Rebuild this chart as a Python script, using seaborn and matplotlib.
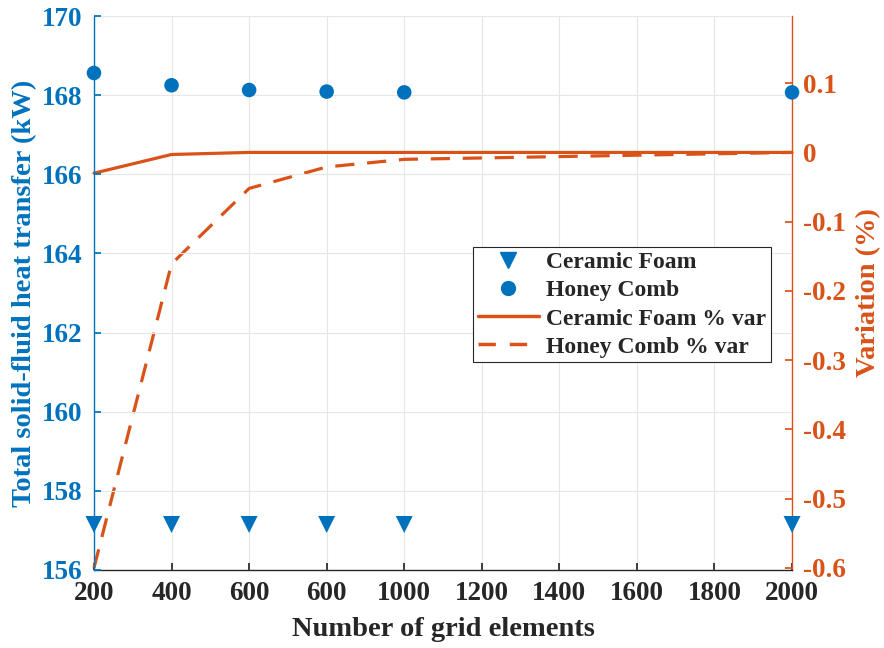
import matplotlib
matplotlib.use("Agg")
import matplotlib.pyplot as plt
import seaborn as sns
import pandas as pd
from matplotlib.lines import Line2D

# Data
grid_elements = [200, 400, 600, 800, 1000, 2000]
ceramic_foam_q = [157.15, 157.15, 157.15, 157.15, 157.15, 157.15]
honey_comb_q = [168.56, 168.25, 168.13, 168.09, 168.07, 168.07]
ceramic_foam_var = [-0.030, -0.003, 0.0, 0.0, 0.0, 0.0]
honey_comb_var = [-0.60, -0.161, -0.052, -0.021, -0.010, 0.0]

x_ticks = [200, 400, 600, 800, 1000, 1200, 1400, 1600, 1800, 2000]
x_tick_labels = ["200", "400", "600", "600", "1000", "1200", "1400", "1600", "1800", "2000"]
left_ticks = [156, 158, 160, 162, 164, 166, 168, 170]
right_ticks = [-0.6, -0.5, -0.4, -0.3, -0.2, -0.1, 0, 0.1]
right_tick_labels = ["-0.6", "-0.5", "-0.4", "-0.3", "-0.2", "-0.1", "0", "0.1"]

df = pd.DataFrame({
    "x": grid_elements,
    "cf": ceramic_foam_q,
    "hc": honey_comb_q,
    "cfv": ceramic_foam_var,
    "hcv": honey_comb_var,
})

sns.set_theme(style="white")
plt.rcParams["font.family"] = ["Liberation Serif", "DejaVu Serif"]
plt.rcParams["font.weight"] = "bold"

BLUE = "#0072BD"
ORANGE = "#D95319"
DARK = "#262626"
TICK_FS = 19.5
LABEL_FS = 20.5

fig = plt.figure(figsize=(8.84, 6.48), dpi=100)
ax2 = fig.add_axes([0.1063, 0.1204, 0.896 - 0.1063, 0.9753 - 0.1204])
ax = ax2.twinx()
ax.yaxis.tick_left()
ax.yaxis.set_label_position("left")
ax2.yaxis.tick_right()
ax2.yaxis.set_label_position("right")

# right axis (variation) lines
sns.lineplot(data=df, x="x", y="cfv", ax=ax2, color=ORANGE, linewidth=2.3,
             linestyle="-", legend=False)
sns.lineplot(data=df, x="x", y="hcv", ax=ax2, color=ORANGE, linewidth=2.3,
             legend=False)
ax2.lines[1].set_dashes([6, 4])
for ln in ax2.lines:
    ln.set_clip_on(False)

# left axis markers
sns.scatterplot(data=df, x="x", y="cf", ax=ax, color=BLUE, marker="v", s=150,
                edgecolor="none", legend=False, clip_on=False, zorder=5)
sns.scatterplot(data=df, x="x", y="hc", ax=ax, color=BLUE, marker="o", s=110,
                edgecolor="none", legend=False, clip_on=False, zorder=5)

ax.set_xlim(200, 2000)
ax2.set_xlim(200, 2000)
ax.set_ylim(156, 170)
ax2.set_ylim(-0.603, 0.197)

ax2.set_xticks(x_ticks)
ax2.set_xticklabels(x_tick_labels)
ax.set_yticks(left_ticks)
ax.set_yticklabels([str(t) for t in left_ticks])
ax2.set_yticks(right_ticks)
ax2.set_yticklabels(right_tick_labels)

# grid
ax2.grid(False)
ax2.xaxis.grid(True, color="#e6e6e6", linewidth=0.8)
ax.yaxis.grid(True, color="#e6e6e6", linewidth=0.8)
ax.xaxis.grid(False)
ax2.set_axisbelow(True)

# spines
for a in (ax, ax2):
    a.spines["top"].set_visible(False)
ax.spines["right"].set_visible(False)
ax.spines["bottom"].set_visible(False)
ax2.spines["left"].set_visible(False)
ax.spines["left"].set_color(BLUE)
ax.spines["left"].set_linewidth(1.0)
ax2.spines["right"].set_color(ORANGE)
ax2.spines["right"].set_linewidth(1.0)
ax2.spines["bottom"].set_color(DARK)
ax2.spines["bottom"].set_linewidth(1.0)

ax.tick_params(axis="y", direction="in", colors=BLUE, labelsize=TICK_FS, length=5,
               left=True, right=False, labelleft=True, labelright=False, pad=8)
ax2.tick_params(axis="y", direction="in", colors=ORANGE, labelsize=TICK_FS, length=5,
                left=False, right=True, labelleft=False, labelright=True, pad=8)
ax2.tick_params(axis="x", direction="in", colors=DARK, labelsize=TICK_FS, length=5,
                bottom=True, pad=8)
ax.tick_params(axis="x", bottom=False, labelbottom=False)
for lab in ax.get_yticklabels() + ax2.get_yticklabels() + ax2.get_xticklabels():
    lab.set_fontweight("bold")

ax.set_xlabel("")
ax2.set_xlabel("Number of grid elements", fontsize=LABEL_FS, fontweight="bold", color=DARK)
ax.set_ylabel("Total solid-fluid heat transfer (kW)", fontsize=LABEL_FS, fontweight="bold",
              color=BLUE)
ax2.set_ylabel("Variation (%)", fontsize=LABEL_FS, fontweight="bold", color=ORANGE,
               rotation=90)
ax.yaxis.set_label_coords(-0.100, 0.5)
ax2.yaxis.set_label_coords(1.109, 0.5)
ax2.xaxis.set_label_coords(0.5, -0.108)
ax.yaxis.label.set_va("center")
ax2.yaxis.label.set_va("center")
ax2.xaxis.label.set_va("center")

handles = [
    Line2D([], [], color=BLUE, marker="v", linestyle="none", markersize=12),
    Line2D([], [], color=BLUE, marker="o", linestyle="none", markersize=10),
    Line2D([], [], color=ORANGE, linestyle="-", linewidth=2.5),
    Line2D([], [], color=ORANGE, linestyle=(0, (5, 4)), linewidth=2.5),
]
labels = ["Ceramic Foam", "Honey Comb", "Ceramic Foam % var", "Honey Comb % var"]
leg = ax.legend(handles, labels, loc="upper left", bbox_to_anchor=(0.543, 0.583),
                frameon=True, fancybox=False, edgecolor="#262626", framealpha=1,
                prop={"weight": "bold", "size": 17}, handlelength=2.6,
                borderpad=0.2, labelspacing=0.28, handletextpad=0.3, borderaxespad=0)
leg.get_frame().set_linewidth(0.8)
leg.set_zorder(10)

fig.savefig("out.png", dpi=100)
